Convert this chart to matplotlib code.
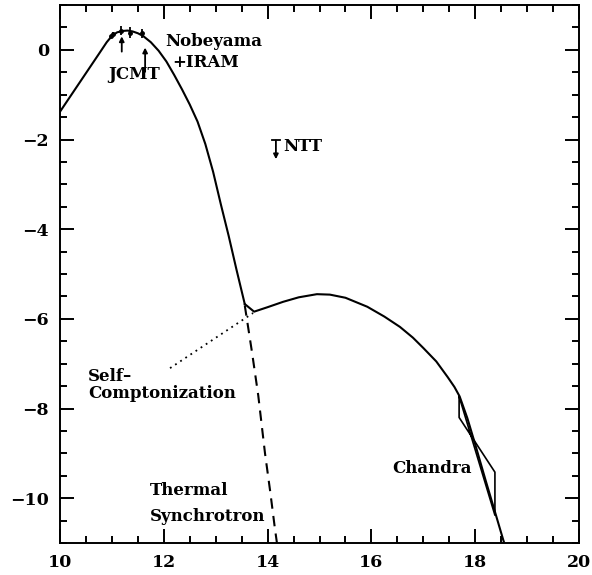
import matplotlib
matplotlib.use("Agg")
import matplotlib.pyplot as plt
from matplotlib.ticker import MultipleLocator

# ---- data (log nu vs log flux) ----
sync_x = [10.0, 10.25, 10.5, 10.75, 10.9, 11.0, 11.1, 11.2, 11.3, 11.4, 11.5, 11.6,
          11.75, 11.9, 12.05, 12.2, 12.35, 12.5, 12.65, 12.8, 12.95, 13.1, 13.25,
          13.4, 13.56]
sync_y = [-1.38, -0.95, -0.52, -0.09, 0.17, 0.31, 0.39, 0.42, 0.43, 0.41, 0.37, 0.31,
          0.17, -0.02, -0.26, -0.56, -0.88, -1.22, -1.60, -2.10, -2.72, -3.45, -4.15,
          -4.90, -5.67]

tail_x = [13.56, 13.70, 13.82, 13.95, 14.05, 14.14, 14.18]
tail_y = [-5.70, -6.75, -7.71, -9.00, -9.85, -10.67, -11.0]

total_x = [13.56, 13.74, 14.0, 14.3, 14.6, 14.95, 15.2, 15.5, 15.92, 16.25, 16.55,
           16.8, 17.0, 17.25, 17.47, 17.6, 17.7, 17.85, 18.0, 18.2, 18.4, 18.54, 18.56]
total_y = [-5.67, -5.84, -5.74, -5.62, -5.52, -5.45, -5.46, -5.53, -5.73, -5.95, -6.18,
           -6.42, -6.65, -6.95, -7.30, -7.52, -7.73, -8.22, -8.80, -9.60, -10.38, -10.93, -11.0]

selfc_x = [12.12, 13.72]
selfc_y = [-7.10, -5.87]

pts_x = [10.98, 11.02, 11.18, 11.35, 11.58]
pts_y = [0.31, 0.36, 0.43, 0.38, 0.37]
pts_err = [0.03, 0.04, 0.10, 0.12, 0.10]

jcmt_arrow_x = [11.19, 11.64]
jcmt_arrow_y0 = [-0.04, -0.49]
jcmt_arrow_y1 = [0.30, 0.05]

ntt_x = 14.16
ntt_y = [-2.02, -2.44]

chandra_x = [17.69, 18.38, 18.38, 17.69, 17.69]
chandra_y = [-7.73, -10.38, -9.42, -8.20, -7.73]

xticks = [10, 12, 14, 16, 18, 20]
yticks = [0, -2, -4, -6, -8, -10]

plt.rcParams['font.family'] = ['DejaVu Serif']

fig = plt.figure(figsize=(5.92, 5.75), dpi=100)
ax = fig.add_axes([60/592, 32/575, 519/592, 538/575])

lw = 1.5
ax.plot(sync_x, sync_y, color='black', lw=lw)
ax.plot(tail_x, tail_y, color='black', lw=lw, ls=(0, (5, 3.5)))
ax.plot(total_x, total_y, color='black', lw=lw)
ax.plot(selfc_x, selfc_y, color='black', lw=1.3, ls=(0, (1, 2.4)))

ax.errorbar(pts_x, pts_y, yerr=pts_err, fmt='o', color='black', ms=2.5,
            elinewidth=1.3, capsize=0)
for x, y0, y1 in zip(jcmt_arrow_x, jcmt_arrow_y0, jcmt_arrow_y1):
    ax.annotate('', xy=(x, y1), xytext=(x, y0),
                arrowprops=dict(arrowstyle='-|>', color='black', lw=1.3,
                                mutation_scale=7, shrinkA=0, shrinkB=0))

ax.annotate('', xy=(ntt_x, ntt_y[1]), xytext=(ntt_x, ntt_y[0]),
            arrowprops=dict(arrowstyle='-|>', color='black', lw=1.3,
                            mutation_scale=7, shrinkA=0, shrinkB=0))
ax.plot([ntt_x - 0.07, ntt_x + 0.07], [ntt_y[0], ntt_y[0]], color='black', lw=1.3)

ax.plot(chandra_x, chandra_y, color='black', lw=1.2)

fs = 12
kw = dict(fontsize=fs, fontweight='bold', color='black')
ax.text(11.43, -0.55, 'JCMT', ha='center', va='center', **kw)
ax.text(12.02, 0.18, 'Nobeyama', ha='left', va='center', **kw)
ax.text(12.80, -0.29, '+IRAM', ha='center', va='center', **kw)
ax.text(14.30, -2.16, 'NTT', ha='left', va='center', **kw)
ax.text(10.54, -7.29, 'Self\u2013', ha='left', va='center', **kw)
ax.text(10.54, -7.67, 'Comptonization', ha='left', va='center', **kw)
ax.text(11.73, -9.82, 'Thermal', ha='left', va='center', **kw)
ax.text(11.73, -10.40, 'Synchrotron', ha='left', va='center', **kw)
ax.text(16.40, -9.33, 'Chandra', ha='left', va='center', **kw)

ax.set_xlim(10, 20)
ax.set_ylim(-11, 1)
ax.set_xticks(xticks)
ax.set_yticks(yticks)
ax.set_yticklabels(['0' if v == 0 else '\u2212%d' % abs(v) for v in yticks])
ax.xaxis.set_minor_locator(MultipleLocator(0.5))
ax.yaxis.set_minor_locator(MultipleLocator(0.5))
ax.tick_params(which='both', direction='in', top=True, right=True, width=1.4,
               labelsize=12.5, pad=8)
ax.tick_params(which='major', length=10)
ax.tick_params(which='minor', length=5)
for lab in ax.get_xticklabels() + ax.get_yticklabels():
    lab.set_fontweight('bold')
for s in ax.spines.values():
    s.set_linewidth(1.4)

fig.savefig('out.png', dpi=100)
